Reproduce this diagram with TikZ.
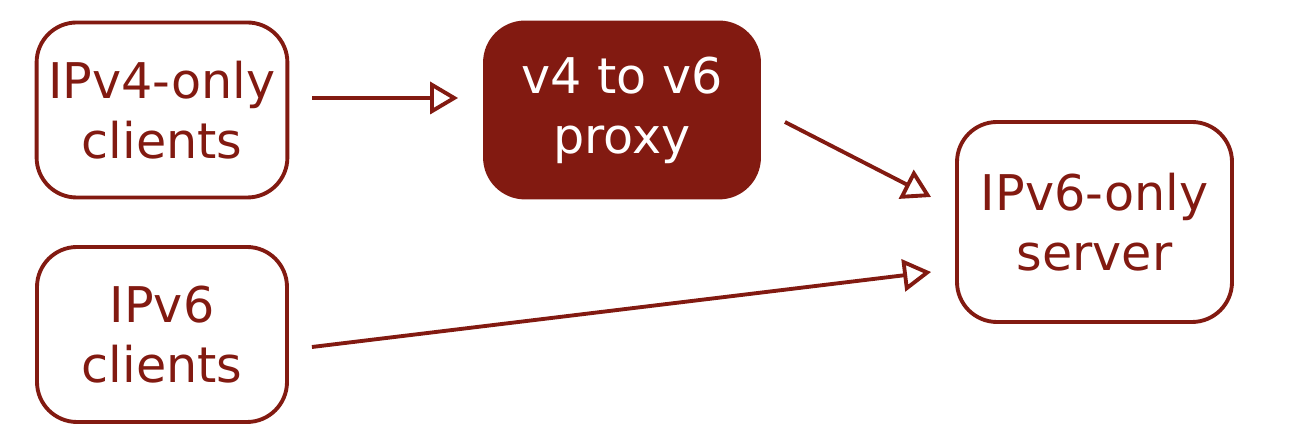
\documentclass[tikz,border=0pt]{standalone}
\usepackage{fontspec}
\setmainfont{DejaVu Sans}
\usetikzlibrary{arrows.meta}
\definecolor{ipred}{HTML}{821A11}

\begin{document}
\begin{tikzpicture}[
  every node/.style = {shape=rectangle, rounded corners=4mm,
    draw=ipred, line width=1.1pt, align=center, text=ipred,
    font=\fontsize{14}{17}\selectfont},
  box/.style = {minimum width=2.5cm, minimum height=1.75cm},
  link/.style = {draw=ipred, line width=1.1pt,
    -{Triangle[open, length=2.8mm, width=3.2mm]}}]
  \useasboundingbox (0,0) rectangle (12.96,4.45);
  \node [box] (v4clients) at (1.62,3.35) {IPv4-only\\clients};
  \node [box] (v6clients) at (1.62,1.105) {IPv6\\clients};
  \node [box, minimum width=2.74cm, fill=ipred, text=white] (proxy) at (6.22,3.35) {v4 to v6\\proxy};
  \node [box, minimum width=2.75cm, minimum height=2cm] (server) at (10.945,2.23) {IPv6-only\\server};
  \draw [link] ([xshift=2.3mm, yshift=1.2mm]v4clients.east) -- ([xshift=-2.5mm, yshift=1.2mm]proxy.west);
  \draw [link] ([xshift=2.4mm, yshift=-1.2mm]proxy.east) -- ([xshift=-2.4mm, yshift=2.5mm]server.west);
  \draw [link] ([xshift=2.3mm, yshift=-1.25mm]v6clients.east) -- ([xshift=-2.4mm, yshift=-5mm]server.west);
\end{tikzpicture}
\end{document}
